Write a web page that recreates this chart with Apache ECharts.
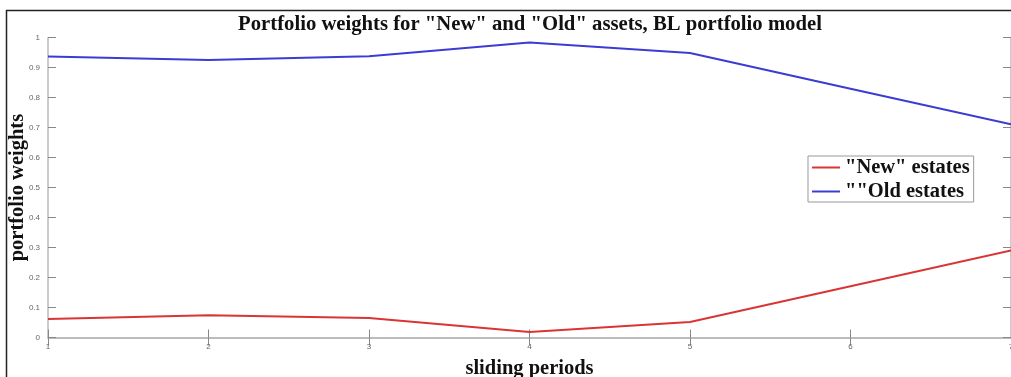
<!DOCTYPE html>
<html>
<head>
<meta charset="utf-8">
<script src="https://cdn.jsdelivr.net/npm/echarts@6/dist/echarts.min.js"></script>
<style>html,body{margin:0;padding:0;background:#fff}#c{width:1011px;height:377px}</style>
</head>
<body>
<div id="c"></div>
<script>
const periods = [1, 2, 3, 4, 5, 6, 7];
const newEstates = [0.062, 0.074, 0.065, 0.018, 0.052, 0.171, 0.290];
const oldEstates = [0.937, 0.926, 0.938, 0.984, 0.949, 0.830, 0.711];
const seriesNames = ['"New" estates', '""Old estates'];
const titleText = 'Portfolio weights for "New" and "Old" assets, BL portfolio model';

const serif = '"Liberation Serif", "DejaVu Serif", serif';
const axisGrey = '#b8b8b8';
const chart = echarts.init(document.getElementById('c'), null, {renderer: 'canvas'});
const pairs = arr => periods.map((p, i) => [p, arr[i]]);

chart.setOption({
  animation: false,
  backgroundColor: '#fff',
  title: {
    text: titleText, left: 530, top: 14, textAlign: 'center', padding: 0,
    textStyle: {fontFamily: serif, fontWeight: 'bold', fontSize: 20.7, color: '#111'}
  },
  graphic: [{
    type: 'polyline', z: 100,
    shape: {points: [[6.5, 377], [6.5, 10.5], [1011, 10.5]]},
    style: {stroke: '#222', lineWidth: 1.5, fill: null}
  }],
  legend: {
    left: 808, top: 156, orient: 'vertical',
    backgroundColor: '#fff', borderColor: '#999', borderWidth: 1,
    padding: [1, 4, 0, 4], itemGap: 3,
    icon: 'rect', itemWidth: 28, itemHeight: 2,
    textStyle: {fontFamily: serif, fontWeight: 'bold', fontSize: 20.5, color: '#111'},
    data: seriesNames
  },
  grid: {left: 48, right: 0, top: 37.7, bottom: 39.5, outerBoundsMode: 'none', containLabel: false},
  xAxis: [{
    type: 'value', min: 1, max: 7, interval: 1,
    name: 'sliding periods', nameLocation: 'middle', nameGap: 21, nameMoveOverlap: false,
    nameTextStyle: {fontFamily: serif, fontWeight: 'bold', fontSize: 20.5, color: '#111'},
    axisLine: {lineStyle: {color: axisGrey, width: 1.5}},
    axisTick: {inside: true, length: 8, lineStyle: {color: '#888'}},
    axisLabel: {fontSize: 8, color: '#666', margin: 5},
    splitLine: {show: false}
  }, {
    type: 'value', min: 1, max: 7, interval: 1, position: 'top',
    axisLine: {show: true, lineStyle: {color: axisGrey, width: 1.5}},
    axisTick: {show: true, inside: true, length: 8, lineStyle: {color: '#888'}},
    axisLabel: {show: false}, splitLine: {show: false}
  }],
  yAxis: [{
    type: 'value', min: 0, max: 1, interval: 0.1,
    name: 'portfolio weights', nameLocation: 'middle', nameGap: 20, nameMoveOverlap: false,
    nameTextStyle: {fontFamily: serif, fontWeight: 'bold', fontSize: 20.5, color: '#111'},
    axisLine: {show: true, lineStyle: {color: axisGrey, width: 1.5}},
    axisTick: {show: true, inside: true, length: 8, lineStyle: {color: '#888'}},
    axisLabel: {fontSize: 8, color: '#666', margin: 8},
    splitLine: {show: false}
  }, {
    type: 'value', min: 0, max: 1, interval: 0.1, position: 'right',
    axisLine: {show: true, lineStyle: {color: axisGrey, width: 1.5}},
    axisTick: {show: true, inside: true, length: 8, lineStyle: {color: '#888'}},
    axisLabel: {show: false}, splitLine: {show: false}
  }],
  series: [{
    name: seriesNames[0], type: 'line', data: pairs(newEstates),
    showSymbol: false, symbol: 'none', color: '#d93535',
    lineStyle: {width: 2, color: '#d93535'}
  }, {
    name: seriesNames[1], type: 'line', data: pairs(oldEstates),
    showSymbol: false, symbol: 'none', color: '#3c3cd4',
    lineStyle: {width: 2, color: '#3c3cd4'}
  }]
});
</script>
</body>
</html>
